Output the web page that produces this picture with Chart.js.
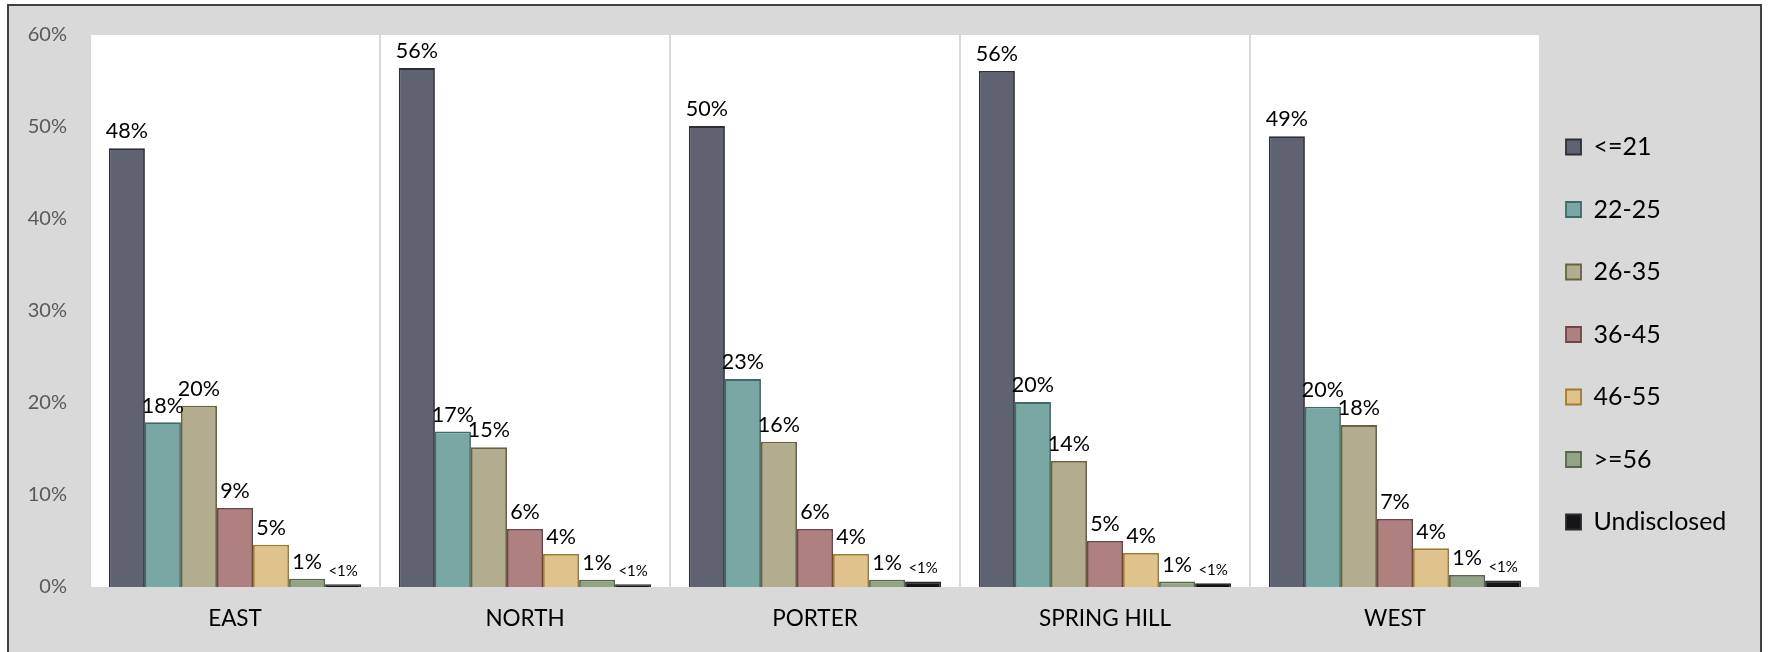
<!DOCTYPE html>
<html>
<head>
<meta charset="utf-8">
<script src="https://cdn.jsdelivr.net/npm/chart.js@4.4.1/dist/chart.umd.min.js"></script>
<style>
  html, body { margin: 0; padding: 0; background: #ffffff; }
  canvas { display: block; }
</style>
</head>
<body>
<canvas id="c" width="1769" height="652"></canvas>
<script>
// ---------- data ----------
const campuses = ['EAST', 'NORTH', 'PORTER', 'SPRING HILL', 'WEST'];
const seriesNames = ['<=21', '22-25', '26-35', '36-45', '46-55', '>=56', 'Undisclosed'];
const ageLe21        = [47.7, 56.4, 50.1, 56.1, 49.0];
const age22to25      = [17.9, 16.9, 22.6, 20.1, 19.6];
const age26to35      = [19.7, 15.2, 15.8, 13.7, 17.6];
const age36to45      = [8.6, 6.3, 6.3, 5.0, 7.4];
const age46to55      = [4.6, 3.6, 3.6, 3.7, 4.2];
const ageGe56        = [0.9, 0.8, 0.8, 0.6, 1.3];
const ageUndisclosed = [0.3, 0.3, 0.6, 0.4, 0.7];
const yTickLabels = ['0%', '10%', '20%', '30%', '40%', '50%', '60%'];
const undisclosedLabel = '<1%';

// ---------- styles ----------
const fills   = ['#5f6271', '#79a8a4', '#b2ad8e', '#b08080', '#e0c28c', '#93a386', '#141418'];
const borders = ['#2e2f36', '#3e6b67', '#68623f', '#6e4446', '#a07a30', '#56654c', '#2a2a2a'];
const seriesData = [ageLe21, age22to25, age26to35, age36to45, age46to55, ageGe56, ageUndisclosed];

const FONT = 'Lato';
const W = 1769, H = 652;
const AREA_LEFT = 90, AREA_RIGHT = 1540, AREA_TOP = 34, AREA_BOTTOM = 587;
const LEG_FONT = 25, LEG_BOX = 15, LEG_PAD = 37.5;
const LEGEND_X = 1566, LEGEND_Y0 = 147;

// legend natural width -> right padding so that the plot area ends where wanted
const mctx = document.createElement('canvas').getContext('2d');
mctx.font = LEG_FONT + 'px ' + FONT;
const maxTW = Math.max(...seriesNames.map(s => mctx.measureText(s).width));
const legendW = LEG_PAD + LEG_BOX + LEG_FONT / 2 + maxTW + 10;
const padRight = Math.max(0, W - AREA_RIGHT - legendW);

const framePlugin = {
  id: 'frame',
  beforeDraw(chart) {
    const ctx = chart.ctx;
    const a = chart.chartArea;
    ctx.save();
    ctx.fillStyle = '#ffffff';
    ctx.fillRect(0, 0, W, H);
    ctx.fillStyle = '#d9d9d9';
    ctx.fillRect(8, 5, 1753, H);
    ctx.strokeStyle = '#404040';
    ctx.lineWidth = 2;
    ctx.beginPath();
    ctx.moveTo(8, H + 5);
    ctx.lineTo(8, 5);
    ctx.lineTo(1761, 5);
    ctx.lineTo(1761, H + 5);
    ctx.stroke();
    ctx.fillStyle = '#ffffff';
    ctx.fillRect(a.left, a.top, a.right - a.left, a.bottom - a.top);
    ctx.restore();
  }
};

const legendPlacer = {
  id: 'legendPlacer',
  afterLayout(chart) {
    const lg = chart.legend;
    if (!lg) return;
    const itemH = Math.max(LEG_FONT, LEG_BOX);
    const dx = LEGEND_X - (lg.left + LEG_PAD);
    lg.left += dx; lg.right += dx;
    const dy = LEGEND_Y0 - (lg.top + LEG_PAD + itemH / 2);
    lg.top += dy; lg.bottom += dy;
  }
};

const valueLabels = {
  id: 'valueLabels',
  afterDatasetsDraw(chart) {
    const ctx = chart.ctx;
    const lastIdx = chart.data.datasets.length - 1;
    ctx.save();
    ctx.fillStyle = '#000000';
    ctx.textAlign = 'center';
    ctx.textBaseline = 'bottom';
    chart.data.datasets.forEach((ds, di) => {
      const meta = chart.getDatasetMeta(di);
      meta.data.forEach((bar, i) => {
        const v = ds.data[i];
        let txt;
        if (di === lastIdx) {
          txt = undisclosedLabel;
          ctx.font = '15px ' + FONT;
        } else {
          txt = Math.round(v) + '%';
          ctx.font = '21.5px ' + FONT;
        }
        ctx.fillText(txt, bar.x, bar.y - 6);
      });
    });
    ctx.restore();
  }
};

new Chart(document.getElementById('c'), {
  type: 'bar',
  data: {
    labels: campuses,
    datasets: seriesNames.map((n, i) => ({
      label: n,
      data: seriesData[i],
      backgroundColor: fills[i],
      borderColor: borders[i],
      borderWidth: 1.8,
      categoryPercentage: 0.87,
      barPercentage: 1.0
    }))
  },
  options: {
    responsive: false,
    animation: false,
    layout: { padding: { left: 0, top: AREA_TOP, right: padRight, bottom: 0 } },
    scales: {
      x: {
        grid: { color: '#d9d9d9', lineWidth: 2, drawTicks: false, offset: true },
        border: { display: false },
        ticks: { color: '#000000', font: { family: FONT, size: 22.5 }, padding: 18 },
        afterFit(s) { s.height = H - AREA_BOTTOM; }
      },
      y: {
        min: 0, max: 60,
        grid: { display: false, drawTicks: false },
        border: { display: false },
        ticks: {
          stepSize: 10,
          color: '#595959',
          font: { family: FONT, size: 20 },
          padding: 23,
          callback: (v) => yTickLabels[Math.round(v / 10)]
        },
        afterFit(s) { s.width = AREA_LEFT; }
      }
    },
    plugins: {
      legend: {
        position: 'right',
        align: 'start',
        labels: {
          boxWidth: LEG_BOX,
          boxHeight: LEG_BOX,
          padding: LEG_PAD,
          color: '#000000',
          font: { family: FONT, size: LEG_FONT }
        }
      },
      tooltip: { enabled: false },
      title: { display: false }
    }
  },
  plugins: [framePlugin, legendPlacer, valueLabels]
});
</script>
</body>
</html>
